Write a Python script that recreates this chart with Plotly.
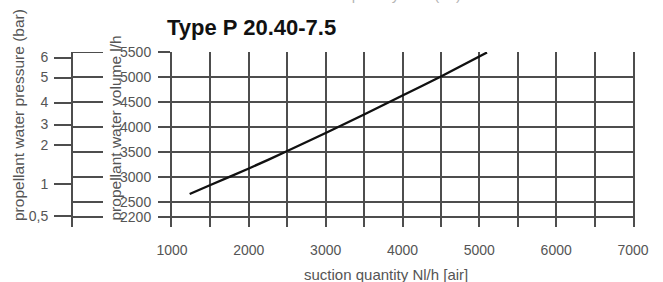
import plotly.graph_objects as go

# data
suction_x = [1230, 1500, 2000, 2500, 3000, 3500, 4000, 4500, 5100]
volume_y = [2660, 2840, 3170, 3520, 3880, 4250, 4630, 5010, 5490]

x_tickvals = [1000, 1500, 2000, 2500, 3000, 3500, 4000, 4500, 5000, 5500, 6000, 6500, 7000]
x_ticktext = ["1000", "", "2000", "", "3000", "", "4000", "", "5000", "", "6000", "", "7000"]

volume_ticks = [2200, 2500, 3000, 3500, 4000, 4500, 5000, 5500]
volume_labels = ["2200", "2500", "3000", "3500", "4000", "4500", "5000", "5500"]

# pressure scale expressed at its matching volume level
pressure_pos = [2220, 2860, 3640, 4050, 4490, 4990, 5390]
pressure_labels = ["0,5", "1", "2", "3", "4", "5", "6"]

W, H = 663, 282
ML, MR, MT, MB = 10, 30, 52, 55
PW = W - ML - MR
PH = H - MT - MB

def px_x(px):
    return (px - ML) / PW

def px_y(py):
    return (H - MB - py) / PH

FONT = "Liberation Sans, Arial, sans-serif"
GRAY = "#555555"
GRID = "#4d4d4d"
LW = 2
yrange = [2000, 5500]

fig = go.Figure()
fig.add_trace(go.Scatter(x=suction_x, y=volume_y, mode="lines",
                         line=dict(color="#111111", width=2.4, shape="spline", smoothing=0.6),
                         showlegend=False, hoverinfo="skip"))
# invisible trace to activate y2
fig.add_trace(go.Scatter(x=[None], y=[None], yaxis="y2", showlegend=False, hoverinfo="skip"))

fig.update_layout(
    width=W, height=H,
    margin=dict(l=ML, r=MR, t=MT, b=MB, pad=0, autoexpand=False),
    paper_bgcolor="white", plot_bgcolor="white",
    showlegend=False, hovermode=False,
    font=dict(family=FONT, size=14, color=GRAY),
    xaxis=dict(domain=[px_x(172), 1], range=[1000, 7000], automargin=False,
               tickmode="array", tickvals=x_tickvals, ticktext=x_ticktext,
               showgrid=True, gridcolor=GRID, gridwidth=LW,
               showline=False, zeroline=False, ticks="",
               ticklabelstandoff=13,
               tickfont=dict(size=14, color=GRAY)),
    yaxis=dict(range=yrange, tickmode="array", tickvals=volume_ticks, ticktext=volume_labels,
               automargin=False,
               showgrid=True, gridcolor=GRID, gridwidth=LW,
               showline=True, linecolor=GRID, linewidth=LW, mirror=True,
               zeroline=False, ticks="outside", ticklen=12, tickcolor=GRID, tickwidth=LW,
               ticklabelstandoff=4, tickfont=dict(size=14, color=GRAY)),
    yaxis2=dict(range=yrange, overlaying="y", anchor="free", position=px_x(72), side="left",
                automargin=False,
                tickmode="array", tickvals=pressure_pos, ticktext=pressure_labels,
                showgrid=False, zeroline=False,
                showline=True, linecolor=GRID, linewidth=LW,
                ticks="outside", ticklen=17, tickcolor=GRID, tickwidth=LW,
                ticklabelstandoff=3, tickfont=dict(size=14, color=GRAY)),
)

# short connectors between the two left scales at each volume level
for v in volume_ticks:
    fig.add_shape(type="line", xref="paper", yref="y", x0=px_x(72), x1=px_x(103), y0=v, y1=v,
                  line=dict(color=GRID, width=LW))

fig.add_annotation(text="Type P 20.40-7.5", xref="paper", yref="paper",
                   x=px_x(165), y=px_y(27), xanchor="left", yanchor="middle", showarrow=False,
                   font=dict(family=FONT, size=22, color="#111111", weight="bold"))
fig.add_annotation(text="suction quantity Nl/h [air]", xref="paper", yref="paper",
                   x=px_x(386), y=px_y(274), xanchor="center", yanchor="middle", showarrow=False,
                   font=dict(family=FONT, size=15, color=GRAY))
fig.add_annotation(text="suction quantity Nl/h (air)", xref="paper", yref="paper",
                   x=px_x(378), y=px_y(5), xanchor="center", yanchor="bottom", showarrow=False,
                   font=dict(family=FONT, size=15, color="#b5b5b5"))
fig.add_annotation(text="propellant water pressure (bar)", xref="paper", yref="paper",
                   x=px_x(18), y=px_y(223), xanchor="center", yanchor="bottom", textangle=-90,
                   showarrow=False, font=dict(family=FONT, size=15.5, color=GRAY))
fig.add_annotation(text="propellant water volume l/h", xref="paper", yref="paper",
                   x=px_x(115), y=px_y(223), xanchor="center", yanchor="bottom", textangle=-90,
                   showarrow=False, font=dict(family=FONT, size=15.5, color=GRAY))

fig.write_html("out.html", config={"displayModeBar": False, "staticPlot": True},
               post_script="document.body.style.margin='0';")
